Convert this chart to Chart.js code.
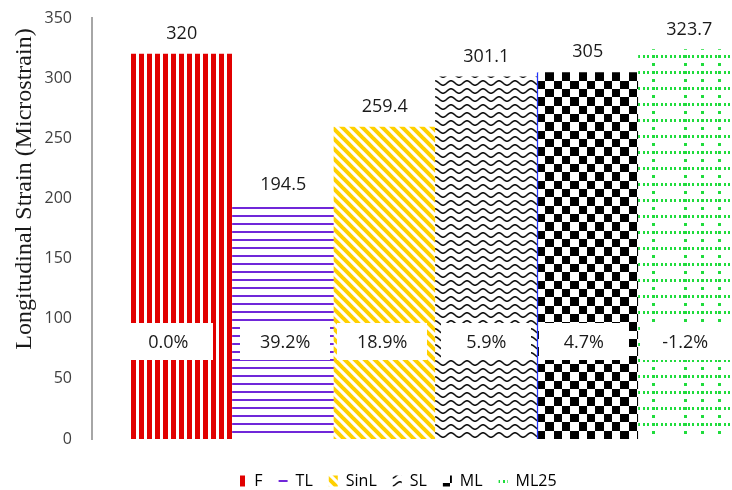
<!DOCTYPE html>
<html>
<head>
<meta charset="utf-8">
<script src="https://cdn.jsdelivr.net/npm/chart.js@4.4.1/dist/chart.umd.min.js"></script>
<style>
  html, body { margin: 0; padding: 0; background: #ffffff; width: 732px; height: 490px; overflow: hidden; }
  #wrap { width: 742px; height: 490px; }
</style>
</head>
<body>
<div id="wrap"><canvas id="c" width="742" height="490"></canvas></div>
<script>
// Specimen types and their measured longitudinal strain
const categories = ['F', 'TL', 'SinL', 'SL', 'ML', 'ML25'];
const strainValues = [320, 194.5, 259.4, 301.1, 305, 323.7];
// Strain reduction relative to F, as printed inside each bar
const reductionLabels = ['0.0%', '39.2%', '18.9%', '5.9%', '4.7%', '-1.2%'];
const yTicks = [0, 50, 100, 150, 200, 250, 300, 350];
const yTitle = 'Longitudinal Strain (Microstrain)';

const canvas = document.getElementById('c');
const mainCtx = canvas.getContext('2d');

// Small repeating tiles used as bar fills
function tile(w, h, paint) {
  const cv = document.createElement('canvas');
  cv.width = w; cv.height = h;
  const g = cv.getContext('2d');
  g.fillStyle = '#ffffff';
  g.fillRect(0, 0, w, h);
  paint(g, w, h);
  return cv;
}

const tiles = [
  // vertical red stripes
  tile(8, 8, g => { g.fillStyle = '#e10000'; g.fillRect(0, 0, 5, 8); }),
  // horizontal purple lines
  tile(8, 8, g => { g.fillStyle = '#7027d9'; g.fillRect(0, 0, 8, 2); }),
  // yellow downward diagonals
  tile(10, 10, g => {
    g.strokeStyle = '#ffd000'; g.lineWidth = 4;
    for (let k = -1; k <= 1; k++) {
      g.beginPath(); g.moveTo(k * 10 - 2, -2); g.lineTo(k * 10 + 12, 12); g.stroke();
    }
  }),
  // black waves
  tile(16, 8, g => {
    g.strokeStyle = '#111111'; g.lineWidth = 1.6;
    g.beginPath();
    for (let x = -1; x <= 17; x += 0.5) {
      const y = 4 - 2.2 * Math.cos(2 * Math.PI * x / 16);
      if (x === -1) g.moveTo(x, y); else g.lineTo(x, y);
    }
    g.stroke();
  }),
  // checkerboard
  tile(50, 50, g => {
    const e = [0, 8, 17, 25, 33, 42, 50];
    g.fillStyle = '#000000';
    for (let r = 0; r < 6; r++)
      for (let c = 0; c < 6; c++)
        if ((r + c) % 2 === 1) g.fillRect(e[c], e[r], e[c + 1] - e[c], e[r + 1] - e[r]);
  }),
  // green dotted grid
  tile(102, 16, g => {
    g.fillStyle = '#1fdc3c';
    for (let x = 0; x < 102; x += 4.5) g.fillRect(Math.round(x), 0, 2, 3);
    [14, 46, 63, 80].forEach(vx => { for (let y = 0; y < 16; y += 8) g.fillRect(vx, y, 3, 3); });
  })
];

const barPatterns = tiles.map(t => mainCtx.createPattern(t, 'repeat'));
const legendPatterns = tiles.map(t => mainCtx.createPattern(t, 'repeat'));

// Anchor each fill at its own bar's bottom-left corner
const alignPatterns = {
  id: 'alignPatterns',
  beforeDatasetsDraw(chart) {
    chart.getDatasetMeta(0).data.forEach((bar, i) => {
      barPatterns[i].setTransform(new DOMMatrix([1, 0, 0, 1, Math.round(bar.x - bar.width / 2), Math.round(bar.base)]));
    });
  }
};

// Value above each bar and the boxed reduction label inside it
const barLabels = {
  id: 'barLabels',
  afterDatasetsDraw(chart, args, opts) {
    const { ctx } = chart;
    const yScale = chart.scales.y;
    const meta = chart.getDatasetMeta(0);
    ctx.save();
    ctx.font = '18px "Open Sans"';
    ctx.textAlign = 'center';
    ctx.textBaseline = 'middle';
    meta.data.forEach((bar, i) => {
      ctx.fillStyle = '#1a1a1a';
      ctx.fillText(String(strainValues[i]), bar.x, bar.y - 20);
      const cx = bar.x + opts.shift[i];
      const cy = yScale.getPixelForValue(opts.boxAt);
      ctx.fillStyle = '#ffffff';
      ctx.fillRect(Math.round(cx - opts.boxW / 2), Math.round(cy - opts.boxH / 2), opts.boxW, opts.boxH);
      ctx.fillStyle = '#1a1a1a';
      ctx.fillText(reductionLabels[i], cx, cy + 1);
    });
    ctx.restore();
  }
};

// Rotated serif title for the value axis
const axisTitle = {
  id: 'axisTitle',
  afterDraw(chart, args, opts) {
    const { ctx } = chart;
    ctx.save();
    ctx.translate(opts.x, opts.y);
    ctx.rotate(-Math.PI / 2);
    ctx.font = '24px "Liberation Serif"';
    ctx.fillStyle = '#1a1a1a';
    ctx.textAlign = 'center';
    ctx.textBaseline = 'middle';
    ctx.fillText(yTitle, 0, 0);
    ctx.restore();
  }
};

// Move the legend row a little lower and to the right of its default slot
const legendOffset = {
  id: 'legendOffset',
  afterLayout(chart, args, opts) {
    if (chart.legend) {
      chart.legend.top += opts.dy;
      chart.legend.bottom += opts.dy;
      chart.legend.left += opts.dx;
      chart.legend.right += opts.dx;
    }
  }
};

new Chart(canvas, {
  type: 'bar',
  data: {
    datasets: [{
      data: strainValues.map((v, i) => ({ x: i, y: v })),
      backgroundColor: barPatterns,
      borderColor: '#2233ff',
      borderWidth: c => (c.dataIndex === 4 ? { left: 1.5, top: 0, right: 0, bottom: 0 } : 0),
      borderSkipped: 'start',
      categoryPercentage: 1,
      barPercentage: 1
    }]
  },
  options: {
    responsive: false,
    animation: false,
    devicePixelRatio: 1,
    layout: { padding: { left: 0, right: 2, top: 18, bottom: 0 } },
    scales: {
      x: {
        type: 'linear',
        offset: false,
        min: -0.884,
        max: 5.5,
        afterBuildTicks: s => { s.ticks = categories.map((_, i) => ({ value: i })); },
        afterFit: s => { s.height = 9; },
        grid: { display: false, offset: false },
        border: { display: false },
        ticks: { display: false }
      },
      y: {
        min: 0,
        max: 350,
        afterBuildTicks: s => { s.ticks = yTicks.map(v => ({ value: v })); },
        afterFit: s => { s.width = 92; s.paddingTop = 10; s.paddingBottom = 10; },
        grid: { display: false, drawTicks: false },
        border: { display: true, color: '#a6a6a6', width: 2 },
        ticks: { padding: 20, color: '#404040', font: { family: 'Open Sans', size: 16 } }
      }
    },
    plugins: {
      tooltip: { enabled: false },
      legend: {
        position: 'bottom',
        align: 'center',
        labels: {
          boxWidth: 9,
          boxHeight: 11,
          padding: 16,
          color: '#333333',
          font: { family: 'Open Sans', size: 16 },
          generateLabels: () => categories.map((c, i) => ({
            text: c, fillStyle: legendPatterns[i], strokeStyle: 'rgba(0,0,0,0)',
            lineWidth: 0, hidden: false, datasetIndex: 0, index: i
          }))
        }
      },
      barLabels: { shift: [-13.5, 2, -2.5, 0, -4, -4], boxAt: 81, boxW: 90, boxH: 37 },
      axisTitle: { x: 25, y: 189 },
      legendOffset: { dx: 27, dy: 9 }
    }
  },
  plugins: [alignPatterns, barLabels, axisTitle, legendOffset]
});
</script>
</body>
</html>
